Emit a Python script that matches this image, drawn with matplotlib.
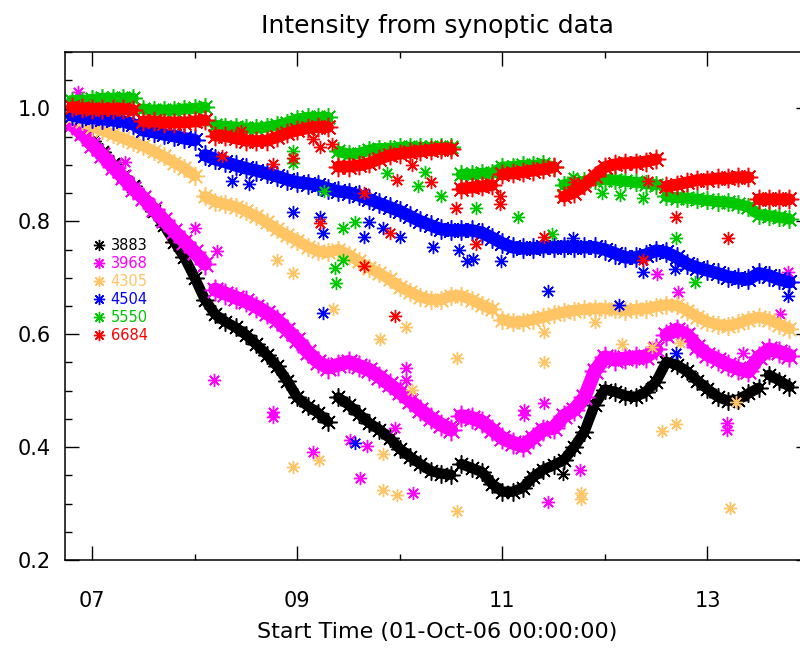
import numpy as np
import matplotlib
matplotlib.use("Agg")
import matplotlib.pyplot as plt

# sample times, day of October 2006
days = np.round(np.arange(6.8, 13.85, 0.1), 1)

# normalised intensity per wavelength (Angstrom)
i3883 = [0.975, 0.959, 0.942, 0.922, 0.901, 0.881, 0.862, 0.842, 0.818, 0.793,
         0.764, 0.736, 0.700, 0.661, 0.635, 0.622, 0.612, 0.599, 0.582, 0.564,
         0.544, 0.518, 0.488, 0.473, 0.461, 0.445, 0.488, 0.475, 0.459, 0.443,
         0.431, 0.416, 0.397, 0.383, 0.370, 0.358, 0.353, 0.351, 0.370, 0.363,
         0.356, 0.335, 0.321, 0.321, 0.328, 0.347, 0.360, 0.368, 0.377, 0.400,
         0.427, 0.475, 0.502, 0.498, 0.491, 0.489, 0.498, 0.516, 0.551, 0.546,
         0.534, 0.518, 0.503, 0.489, 0.482, 0.484, 0.495, 0.505, 0.528, 0.518,
         0.507]
i3968 = [0.972, 0.956, 0.936, 0.917, 0.897, 0.878, 0.858, 0.841, 0.821, 0.802,
         0.782, 0.764, 0.745, 0.725, 0.679, 0.672, 0.665, 0.658, 0.649, 0.638,
         0.626, 0.608, 0.590, 0.569, 0.551, 0.541, 0.546, 0.551, 0.544, 0.537,
         0.525, 0.511, 0.497, 0.482, 0.466, 0.452, 0.440, 0.431, 0.455, 0.452,
         0.445, 0.431, 0.416, 0.408, 0.402, 0.416, 0.431, 0.434, 0.455, 0.466,
         0.488, 0.534, 0.559, 0.555, 0.557, 0.559, 0.560, 0.573, 0.599, 0.608,
         0.599, 0.578, 0.564, 0.555, 0.546, 0.539, 0.534, 0.559, 0.573, 0.569,
         0.562]
i4305 = [0.984, 0.977, 0.968, 0.961, 0.954, 0.947, 0.940, 0.933, 0.924, 0.915,
         0.904, 0.894, 0.881, 0.844, 0.835, 0.830, 0.826, 0.818, 0.809, 0.798,
         0.786, 0.775, 0.766, 0.755, 0.747, 0.745, 0.750, 0.741, 0.729, 0.718,
         0.708, 0.697, 0.684, 0.675, 0.666, 0.661, 0.661, 0.668, 0.668, 0.661,
         0.652, 0.644, 0.626, 0.621, 0.622, 0.626, 0.630, 0.635, 0.639, 0.642,
         0.644, 0.645, 0.645, 0.644, 0.642, 0.644, 0.645, 0.649, 0.652, 0.651,
         0.642, 0.631, 0.622, 0.617, 0.615, 0.619, 0.626, 0.630, 0.626, 0.617,
         0.610]
i4504 = [0.988, 0.984, 0.983, 0.981, 0.979, 0.977, 0.972, 0.961, 0.958, 0.954,
         0.951, 0.947, 0.944, 0.917, 0.910, 0.905, 0.899, 0.894, 0.890, 0.885,
         0.880, 0.874, 0.869, 0.867, 0.864, 0.858, 0.853, 0.851, 0.846, 0.839,
         0.832, 0.825, 0.818, 0.809, 0.800, 0.793, 0.786, 0.784, 0.784, 0.784,
         0.780, 0.771, 0.761, 0.754, 0.752, 0.752, 0.754, 0.754, 0.755, 0.755,
         0.754, 0.754, 0.750, 0.743, 0.736, 0.736, 0.741, 0.748, 0.745, 0.736,
         0.725, 0.718, 0.713, 0.708, 0.702, 0.699, 0.697, 0.708, 0.704, 0.697,
         0.692]
i5550 = [1.014, 1.014, 1.016, 1.018, 1.018, 1.018, 1.018, 0.999, 0.997, 0.997,
         0.997, 0.999, 1.000, 1.002, 0.970, 0.968, 0.967, 0.965, 0.965, 0.967,
         0.970, 0.975, 0.981, 0.984, 0.984, 0.984, 0.924, 0.919, 0.920, 0.926,
         0.929, 0.929, 0.931, 0.931, 0.931, 0.931, 0.931, 0.931, 0.883, 0.883,
         0.885, 0.885, 0.896, 0.897, 0.899, 0.899, 0.901, 0.896, 0.865, 0.867,
         0.871, 0.873, 0.874, 0.873, 0.871, 0.869, 0.867, 0.865, 0.844, 0.842,
         0.841, 0.839, 0.837, 0.835, 0.834, 0.830, 0.826, 0.812, 0.810, 0.807,
         0.804]
i6684 = [1.002, 1.000, 0.999, 0.999, 0.999, 0.999, 0.997, 0.977, 0.977, 0.975,
         0.975, 0.975, 0.977, 0.979, 0.952, 0.951, 0.947, 0.943, 0.942, 0.943,
         0.949, 0.956, 0.961, 0.965, 0.967, 0.967, 0.897, 0.897, 0.899, 0.903,
         0.910, 0.917, 0.920, 0.922, 0.924, 0.926, 0.928, 0.928, 0.858, 0.860,
         0.862, 0.864, 0.883, 0.885, 0.887, 0.890, 0.892, 0.896, 0.844, 0.851,
         0.864, 0.881, 0.896, 0.901, 0.903, 0.904, 0.906, 0.910, 0.862, 0.865,
         0.869, 0.873, 0.874, 0.876, 0.876, 0.878, 0.878, 0.839, 0.839, 0.839,
         0.839]

# isolated frames that fall off the main trend
out3883_t = [11.595]
out3883_v = [0.353]
out3968_t = [6.863, 7.322, 8.005, 8.190, 8.220, 8.766, 8.766, 9.156, 9.517, 9.615,
             9.683, 9.956, 10.063, 10.063, 10.132, 11.215, 11.215, 11.410, 11.449,
             11.761, 12.512, 12.717, 13.195, 13.195, 13.351, 13.712, 13.790]
out3968_v = [1.029, 0.906, 0.789, 0.519, 0.747, 0.463, 0.453, 0.392, 0.413, 0.346,
             0.402, 0.434, 0.540, 0.519, 0.319, 0.466, 0.457, 0.479, 0.302,
             0.360, 0.706, 0.674, 0.443, 0.431, 0.567, 0.635, 0.711]
out4305_t = [8.805, 8.961, 8.961, 9.215, 9.351, 9.810, 9.839, 9.839, 9.976, 10.063,
             10.122, 10.561, 10.561, 11.410, 11.410, 11.771, 11.771, 11.907, 12.171,
             12.463, 12.561, 12.698, 12.737, 13.224, 13.283]
out4305_v = [0.732, 0.709, 0.365, 0.377, 0.644, 0.592, 0.388, 0.324, 0.316, 0.613,
             0.502, 0.557, 0.287, 0.604, 0.551, 0.319, 0.308, 0.621, 0.582,
             0.577, 0.429, 0.441, 0.585, 0.292, 0.480]
out4504_t = [8.366, 8.532, 8.961, 9.224, 9.254, 9.254, 9.566, 9.654, 9.702, 9.839,
             10.005, 10.327, 10.580, 10.659, 10.717, 10.990, 11.449, 11.693, 12.141,
             12.376, 12.688, 12.698, 13.790]
out4504_v = [0.871, 0.866, 0.816, 0.807, 0.779, 0.637, 0.408, 0.773, 0.798, 0.789,
             0.772, 0.755, 0.750, 0.729, 0.734, 0.729, 0.677, 0.770, 0.652,
             0.711, 0.715, 0.567, 0.667]
out5550_t = [8.961, 8.961, 9.263, 9.371, 9.380, 9.449, 9.449, 9.566, 9.878, 10.180,
             10.249, 10.405, 10.746, 11.156, 11.488, 11.693, 11.976, 12.151, 12.376,
             12.698, 12.883]
out5550_v = [0.924, 0.904, 0.853, 0.718, 0.690, 0.788, 0.731, 0.798, 0.885, 0.862,
             0.887, 0.844, 0.823, 0.807, 0.777, 0.878, 0.850, 0.846, 0.842,
             0.770, 0.692]
out6684_t = [8.268, 8.454, 8.766, 8.961, 9.156, 9.224, 9.224, 9.341, 9.654, 9.654,
             9.907, 9.956, 9.976, 10.122, 10.307, 10.551, 10.746, 10.980, 10.980,
             11.410, 11.702, 12.376, 12.424, 12.698, 13.205]
out6684_v = [0.915, 0.960, 0.901, 0.913, 0.945, 0.931, 0.797, 0.937, 0.720, 0.851,
             0.779, 0.633, 0.874, 0.899, 0.869, 0.823, 0.759, 0.844, 0.830,
             0.772, 0.869, 0.732, 0.871, 0.807, 0.770]

labels = ["3883", "3968", "4305", "4504", "5550", "6684"]
colors = ["#000000", "#ff00ff", "#ffc464", "#0000ff", "#00c800", "#ff0000"]
values = [i3883, i3968, i4305, i4504, i5550, i6684]
outliers = [(out3883_t, out3883_v), (out3968_t, out3968_v), (out4305_t, out4305_v),
            (out4504_t, out4504_v), (out5550_t, out5550_v), (out6684_t, out6684_v)]
band_width = [7.5, 10, 8, 9, 8, 8.5]

ASTERISK = (8, 2, 0)


def split_jumps(t, v, thresh=0.018):
    # break the band where the level steps, so no bridge is drawn across the gap
    t = np.asarray(t, float)
    v = np.asarray(v, float)
    d = np.abs(np.diff(v))
    prev = np.r_[0.0, d[:-1]]
    nxt = np.r_[d[1:], 0.0]
    cut = np.where((d > thresh) & (d > 2 * np.maximum(prev, nxt)))[0]
    return np.insert(t, cut + 1, np.nan), np.insert(v, cut + 1, np.nan)


fig = plt.figure(figsize=(8, 6.56), dpi=100)
ax = fig.add_axes([65 / 800, 96 / 656, 745 / 800, 508 / 656])

for lab, col, vals, (ot, ov), bw in zip(labels, colors, values, outliers, band_width):
    tt, vv = split_jumps(days, vals)
    ax.plot(tt, vv, "-", color=col, lw=bw, solid_capstyle="round")
    ax.plot(days, vals, ls="none", marker=ASTERISK, ms=bw + 5.5, mew=1.1, color=col)
    ax.plot(ot, ov, ls="none", marker=ASTERISK, ms=9.5, mew=1.0, color=col, label=lab)

ax.set_xlim(6.735, 14.0)
ax.set_ylim(0.2, 1.1)
ax.set_xticks([7, 9, 11, 13])
ax.set_xticklabels(["07", "09", "11", "13"])
ax.set_xticks([8, 10, 12], minor=True)
ax.set_yticks([0.2, 0.4, 0.6, 0.8, 1.0])
ax.set_yticklabels(["0.2", "0.4", "0.6", "0.8", "1.0"])
ax.set_yticks(np.arange(0.2, 1.101, 0.05), minor=True)

ax.tick_params(which="both", direction="in", top=True, right=True, width=1, colors="black")
ax.tick_params(which="major", length=10, labelsize=15)
ax.tick_params(axis="x", which="major", pad=22)
ax.tick_params(axis="y", which="major", pad=10)
ax.tick_params(axis="x", which="minor", length=4)
ax.tick_params(axis="y", which="minor", length=5)
for sp in ax.spines.values():
    sp.set_linewidth(1.1)

ax.set_xlabel("Start Time (01-Oct-06 00:00:00)", fontsize=16, labelpad=8)
ax.set_title("Intensity from synoptic data", fontsize=18, pad=14)

leg = ax.legend(loc="upper left", bbox_to_anchor=(0.03, 0.645), frameon=False,
                handlelength=0.8, handletextpad=0.4, labelspacing=0.2,
                borderaxespad=0, markerscale=0.85, fontsize=10.5, labelcolor="linecolor")

fig.savefig("out.png", dpi=100)
